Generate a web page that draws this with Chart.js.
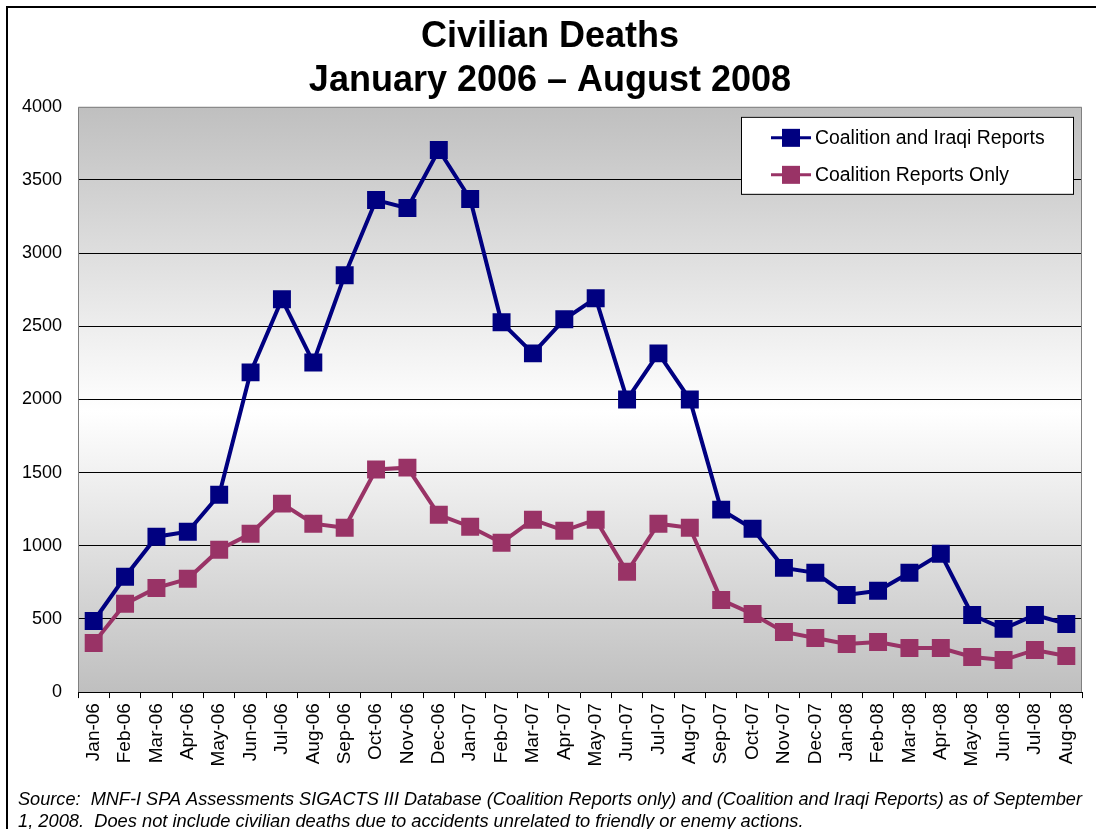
<!DOCTYPE html>
<html>
<head>
<meta charset="utf-8">
<script src="https://cdn.jsdelivr.net/npm/chart.js@4/dist/chart.umd.min.js"></script>
<style>
  html, body { margin: 0; padding: 0; background: #fff; }
  #wrap { width: 1096px; height: 829px; position: relative; }
</style>
</head>
<body>
<div id="wrap"><canvas id="deathsChart" width="1096" height="829"></canvas></div>
<script>
var months = [
  "Jan-06", "Feb-06", "Mar-06", "Apr-06", "May-06", "Jun-06", "Jul-06", "Aug-06",
  "Sep-06", "Oct-06", "Nov-06", "Dec-06", "Jan-07", "Feb-07", "Mar-07", "Apr-07",
  "May-07", "Jun-07", "Jul-07", "Aug-07", "Sep-07", "Oct-07", "Nov-07", "Dec-07",
  "Jan-08", "Feb-08", "Mar-08", "Apr-08", "May-08", "Jun-08", "Jul-08", "Aug-08"
];

var coalitionIraqi = [
  486, 788, 1062, 1096, 1349, 2185, 2685, 2253,
  2849, 3363, 3308, 3705, 3370, 2527, 2315, 2548,
  2692, 2000, 2315, 2000, 1247, 1116, 849, 815,
  664, 692, 815, 945, 527, 432, 527, 466
];

var coalitionOnly = [
  336, 603, 712, 774, 973, 1082, 1288, 1151,
  1123, 1521, 1534, 1212, 1130, 1021, 1178, 1103,
  1178, 822, 1151, 1123, 630, 534, 411, 370,
  329, 342, 301, 301, 240, 219, 288, 247
];

var seriesNames = ["Coalition and Iraqi Reports", "Coalition Reports Only"];
var titleLines = ["Civilian Deaths", "January 2006 \u2013 August 2008"];
var sourceLines = [
  "Source:  MNF-I SPA Assessments SIGACTS III Database (Coalition Reports only) and (Coalition and Iraqi Reports) as of September",
  "1, 2008.  Does not include civilian deaths due to accidents unrelated to friendly or enemy actions."
];

var BLUE = "#000080";
var PLUM = "#993366";
var FONT = "Arial, 'Liberation Sans', sans-serif";

// gradient plot background + outer frame
var plotBackground = {
  id: "plotBackground",
  beforeDraw: function (chart) {
    var ctx = chart.ctx;
    var a = chart.chartArea;
    ctx.save();
    var g = ctx.createLinearGradient(0, a.top, 0, a.bottom);
    g.addColorStop(0, "#bfbfbf");
    g.addColorStop(0.52, "#ffffff");
    g.addColorStop(1, "#bfbfbf");
    ctx.fillStyle = g;
    ctx.fillRect(a.left, a.top, a.right - a.left, a.bottom - a.top);

    ctx.strokeStyle = "#000";
    ctx.lineWidth = 2;
    ctx.beginPath();
    ctx.moveTo(7, chart.height + 2);
    ctx.lineTo(7, 7);
    ctx.lineTo(chart.width + 2, 7);
    ctx.stroke();
    ctx.restore();
  },
  beforeDatasetsDraw: function (chart) {
    var ctx = chart.ctx;
    var a = chart.chartArea;
    ctx.save();
    ctx.strokeStyle = "#808080";
    ctx.lineWidth = 1;
    ctx.beginPath();
    ctx.moveTo(a.left + 0.5, a.bottom);
    ctx.lineTo(a.left + 0.5, a.top + 0.5);
    ctx.lineTo(a.right - 0.5, a.top + 0.5);
    ctx.lineTo(a.right - 0.5, a.bottom);
    ctx.stroke();
    ctx.restore();
  }
};

// boxed legend inside the plot, top right
var boxLegend = {
  id: "boxLegend",
  afterDraw: function (chart) {
    var ctx = chart.ctx;
    var a = chart.chartArea;
    var w = 332, h = 77;
    var x = a.right - 9 - w;
    var y = a.top + 10;
    ctx.save();
    ctx.fillStyle = "#fff";
    ctx.fillRect(x, y, w, h);
    ctx.strokeStyle = "#000";
    ctx.lineWidth = 1;
    ctx.strokeRect(x + 0.5, y + 0.5, w, h);
    chart.data.datasets.forEach(function (ds, i) {
      var cy = y + 21 + i * 37;
      ctx.strokeStyle = ds.borderColor;
      ctx.lineWidth = 3;
      ctx.beginPath();
      ctx.moveTo(x + 30, cy);
      ctx.lineTo(x + 70, cy);
      ctx.stroke();
      ctx.fillStyle = ds.pointBackgroundColor;
      ctx.fillRect(x + 41, cy - 9, 18, 18);
      ctx.fillStyle = "#000";
      ctx.font = "19.4px " + FONT;
      ctx.textBaseline = "middle";
      ctx.textAlign = "left";
      ctx.fillText(ds.label, x + 74, cy + 1);
    });
    ctx.restore();
  }
};

function lineSet(label, values, color) {
  return {
    label: label,
    data: values,
    borderColor: color,
    backgroundColor: color,
    borderWidth: 4,
    pointStyle: "rect",
    pointRadius: 12.7,
    pointHoverRadius: 12.7,
    pointBackgroundColor: color,
    pointBorderColor: color,
    pointBorderWidth: 0,
    tension: 0,
    fill: false
  };
}

document.addEventListener("DOMContentLoaded", function () {
  var canvas = document.getElementById("deathsChart");
  new Chart(canvas.getContext("2d"), {
    type: "line",
    data: {
      labels: months,
      datasets: [
        lineSet(seriesNames[0], coalitionIraqi, BLUE),
        lineSet(seriesNames[1], coalitionOnly, PLUM)
      ]
    },
    plugins: [plotBackground, boxLegend],
    options: {
      responsive: false,
      animation: false,
      devicePixelRatio: 1,
      layout: { padding: { left: 18, right: 14, top: 0, bottom: -4 } },
      plugins: {
        legend: { display: false },
        tooltip: { enabled: false },
        title: {
          display: true,
          text: titleLines,
          color: "#000",
          font: { family: FONT, size: 36, weight: "bold", lineHeight: 1.22 },
          padding: { top: 15, bottom: 4 }
        },
        subtitle: {
          display: true,
          position: "bottom",
          align: "start",
          text: sourceLines,
          color: "#000",
          font: { family: FONT, size: 18.3, style: "italic", lineHeight: 1.2 },
          padding: { top: 17, bottom: 0 }
        }
      },
      scales: {
        x: {
          offset: true,
          afterFit: function (s) { s.height = 80; },
          grid: {
            display: true,
            offset: true,
            drawOnChartArea: false,
            drawTicks: true,
            tickLength: 6,
            color: "#000"
          },
          border: { display: true, color: "#000", width: 1 },
          ticks: {
            autoSkip: false,
            maxRotation: 90,
            minRotation: 90,
            padding: 5,
            color: "#000",
            font: { family: FONT, size: 19 }
          }
        },
        y: {
          min: 0,
          max: 4000,
          afterFit: function (s) { s.width = 60; },
          grid: {
            drawTicks: false,
            color: function (c) {
              if (c.tick.value === 0 || c.tick.value === 4000) return "rgba(0,0,0,0)";
              return "#000";
            }
          },
          border: { display: false },
          ticks: {
            stepSize: 500,
            padding: 16,
            color: "#000",
            font: { family: FONT, size: 18 },
            callback: function (v) { return String(v); }
          }
        }
      }
    }
  });
});
</script>
</body>
</html>
